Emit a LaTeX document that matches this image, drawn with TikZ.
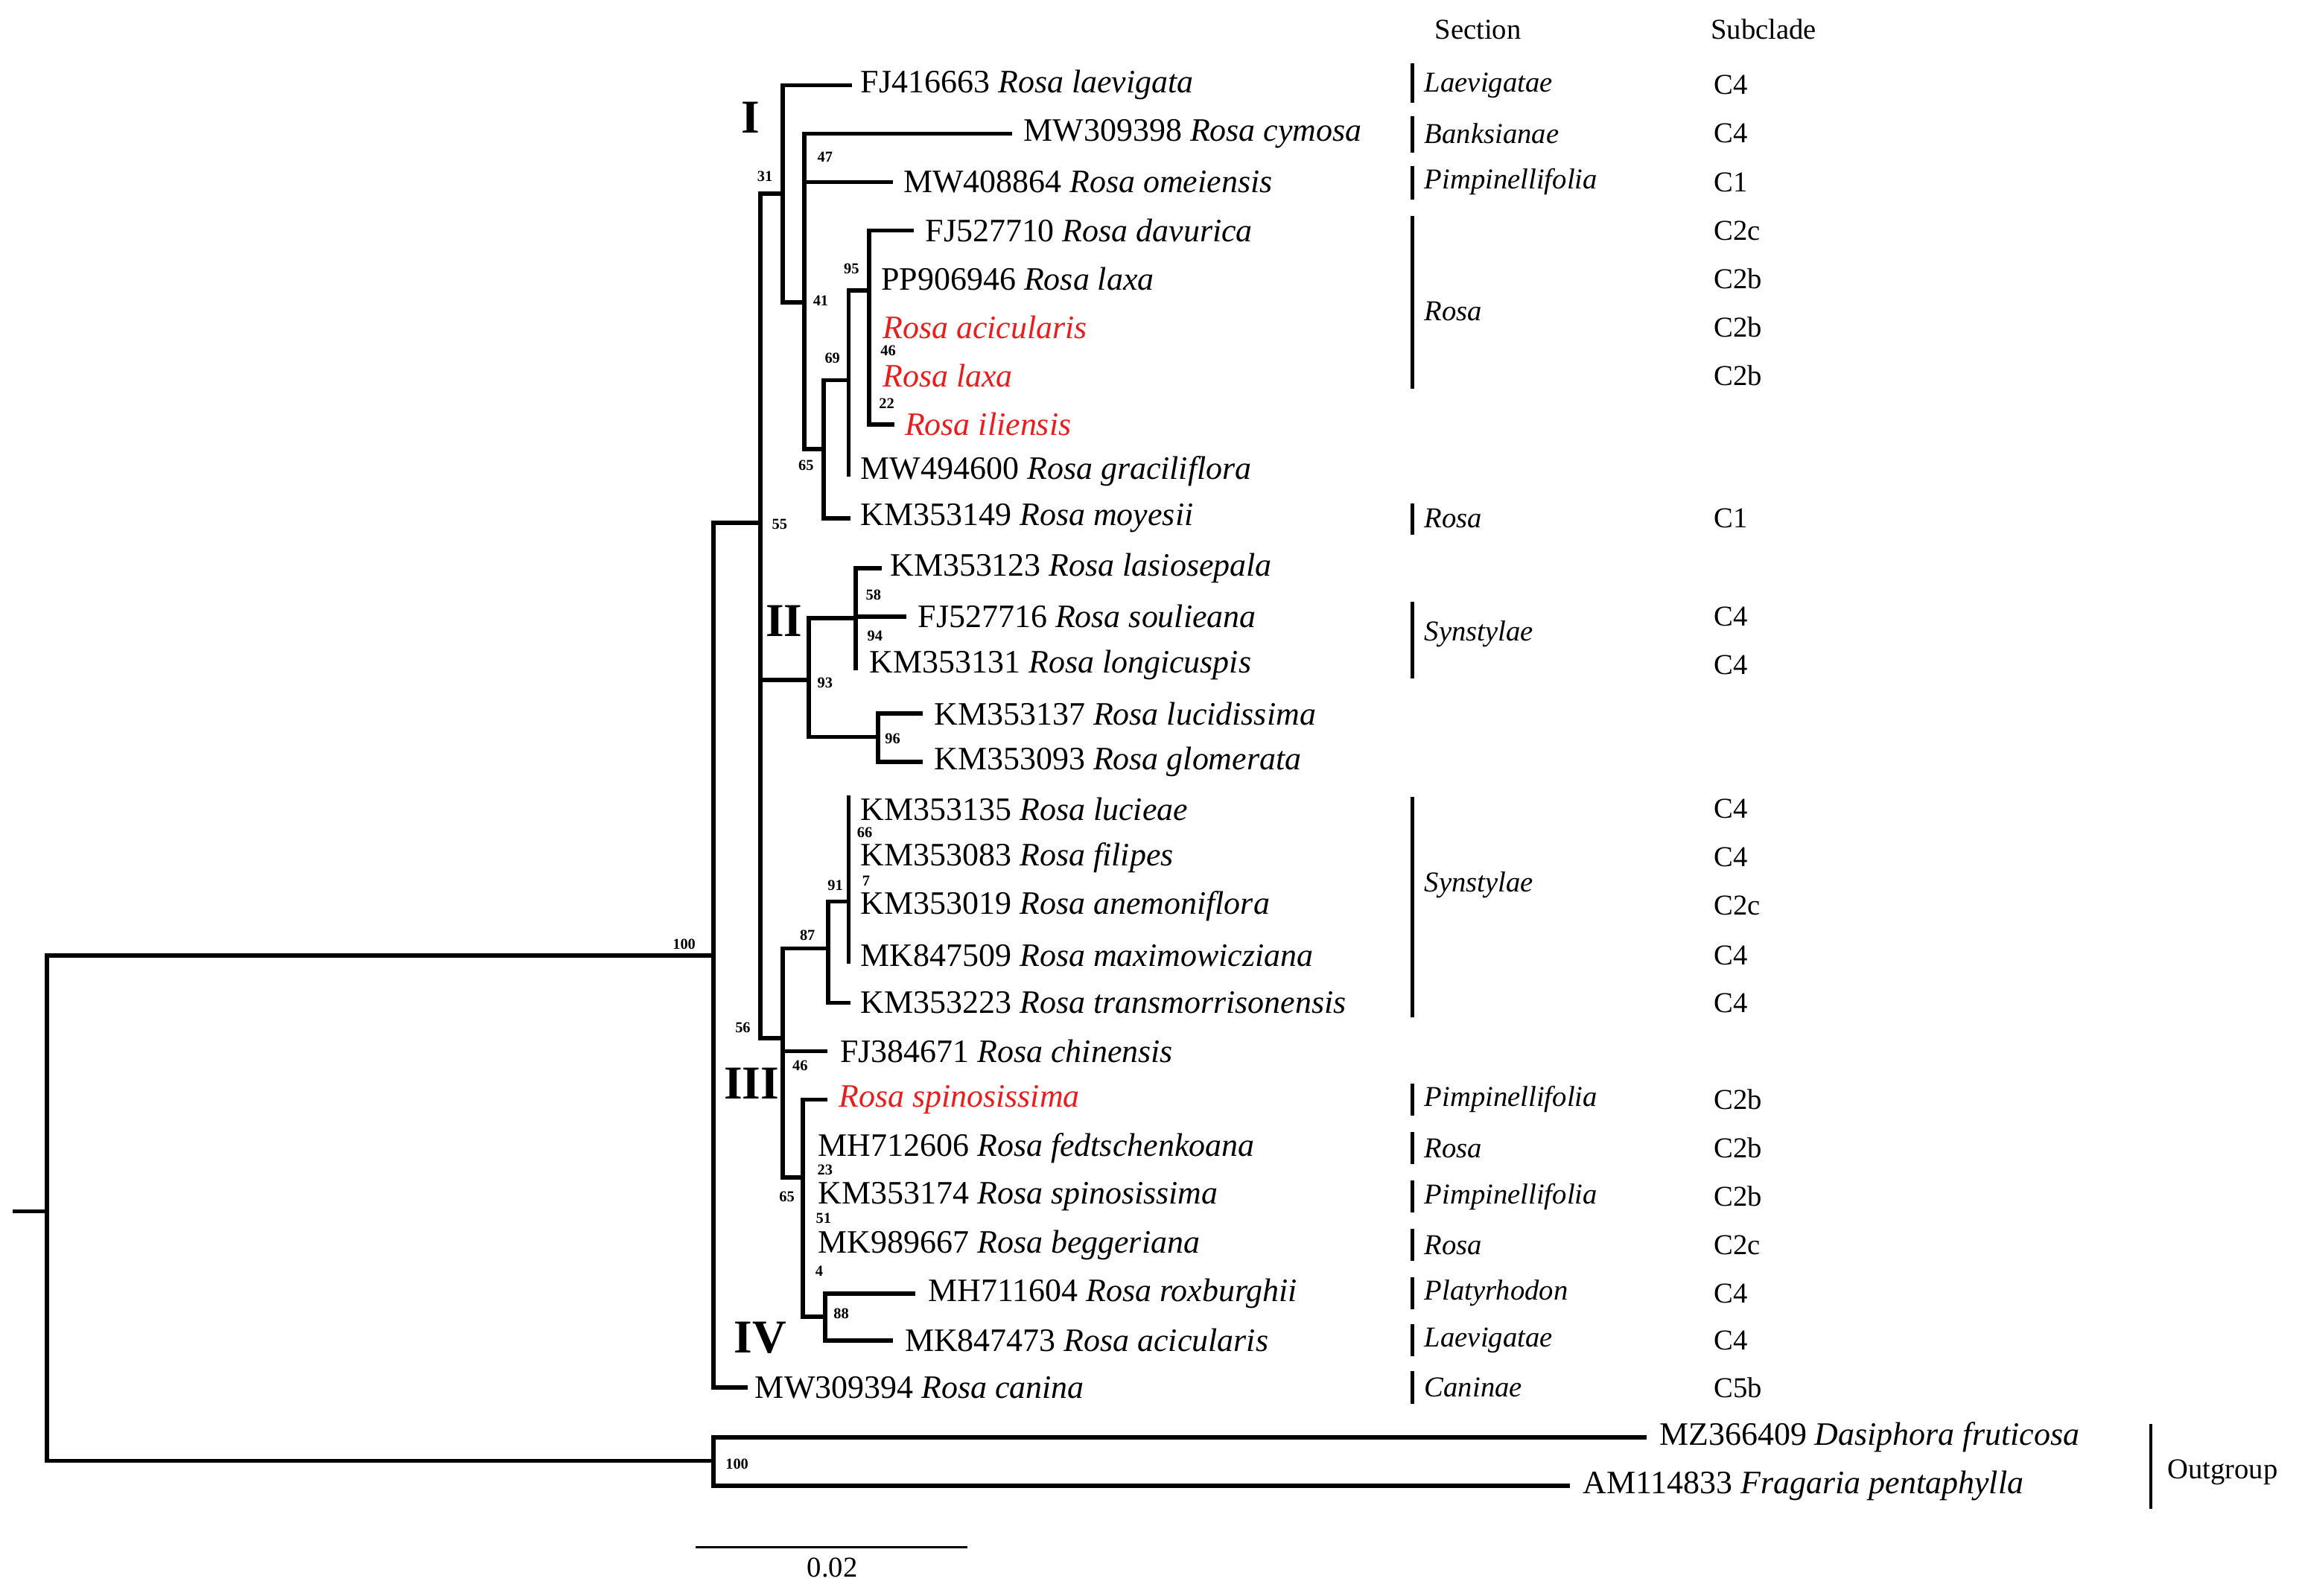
\documentclass[tikz,border=0pt]{standalone}
\usepackage{fontspec}
\setmainfont{Liberation Serif}
\definecolor{rred}{RGB}{230,30,30}
\begin{document}
\begin{tikzpicture}[x=0.01971cm,y=-0.01971cm,
  br/.style={line width=1.6pt,line cap=rect},
  lf/.style={anchor=west,inner sep=0,font=\fontsize{12.5}{14}\selectfont},
  bs/.style={inner sep=0,font=\fontsize{5.8}{6}\selectfont\bfseries},
  cl/.style={inner sep=0,font=\fontsize{18}{20}\selectfont\bfseries},
  sec/.style={anchor=west,inner sep=0,font=\fontsize{11}{13}\selectfont\itshape},
  sub/.style={anchor=west,inner sep=0,font=\fontsize{11}{13}\selectfont},
  bar/.style={line width=1.2pt}]
\useasboundingbox (0,0) rectangle (1568,1087);
% root
\draw[br] (10,825) -- (32,825);
\draw[br] (32,651) -- (32,995);
\draw[br] (32,651) -- (486,651);
\draw[br] (32,995) -- (486,995);
\draw[br] (486,356) -- (486,945);
\draw[br] (486,356) -- (518,356);
\draw[br] (486,945) -- (508,945);
\draw[br] (518,132) -- (518,707);
% clade I
\draw[br] (518,132) -- (533,132);
\draw[br] (533,58) -- (533,206);
\draw[br] (533,58) -- (579,58);
\draw[br] (533,206) -- (548,206);
\draw[br] (548,91) -- (548,306);
\draw[br] (548,91) -- (688,91);
\draw[br] (548,124) -- (607,124);
\draw[br] (548,306) -- (561,306);
\draw[br] (561,259) -- (561,353);
\draw[br] (561,353) -- (578,353);
\draw[br] (561,259) -- (578,259);
\draw[br] (578,198) -- (578,323);
\draw[br] (578,198) -- (592,198);
\draw[br] (592,157) -- (592,289);
\draw[br] (592,157) -- (621,157);
\draw[br] (592,289) -- (608,289);
% clade II
\draw[br] (518,463) -- (551,463);
\draw[br] (551,421) -- (551,502);
\draw[br] (551,421) -- (583,421);
\draw[br] (583,387) -- (583,455);
\draw[br] (583,387) -- (599,387);
\draw[br] (583,420) -- (616,420);
\draw[br] (551,502) -- (598,502);
\draw[br] (598,486) -- (598,519);
\draw[br] (598,486) -- (627,486);
\draw[br] (598,519) -- (627,519);
% clade III/IV
\draw[br] (518,707) -- (533,707);
\draw[br] (533,646) -- (533,802);
\draw[br] (533,716) -- (562,716);
\draw[br] (533,646) -- (564,646);
\draw[br] (564,614) -- (564,683);
\draw[br] (564,683) -- (578,683);
\draw[br] (564,614) -- (578,614);
\draw[br] (578,543) -- (578,655);
\draw[br] (533,802) -- (547,802);
\draw[br] (547,749) -- (547,897);
\draw[br] (547,749) -- (562,749);
\draw[br] (547,897) -- (562,897);
\draw[br] (562,881) -- (562,913);
\draw[br] (562,881) -- (622,881);
\draw[br] (562,913) -- (607,913);
% outgroup
\draw[br] (486,979) -- (486,1012);
\draw[br] (486,979) -- (1120,979);
\draw[br] (486,1012) -- (1068,1012);
% leaves
\node[lf] (l1) at (586,58) {FJ416663 \textit{Rosa laevigata}};
\node[lf] (l2) at (697,91) {MW309398 \textit{Rosa cymosa}};
\node[lf] (l3) at (615,124) {MW408864 \textit{Rosa omeiensis}};
\node[lf] (l4) at (630,157) {FJ527710 \textit{Rosa davurica}};
\node[lf] (l5) at (600,190) {PP906946 \textit{Rosa laxa}};
\node[lf,text=rred] (l6) at (601,223) {\textit{Rosa acicularis}};
\node[lf,text=rred] (l7) at (601,256) {\textit{Rosa laxa}};
\node[lf,text=rred] (l8) at (616,289) {\textit{Rosa iliensis}};
\node[lf] (l9) at (586,321) {MW494600 \textit{Rosa graciliflora}};
\node[lf] (l10) at (586,353) {KM353149 \textit{Rosa moyesii}};
\node[lf] (l11) at (606,387) {KM353123 \textit{Rosa lasiosepala}};
\node[lf] (l12) at (625,420) {FJ527716 \textit{Rosa soulieana}};
\node[lf] (l13) at (592,453) {KM353131 \textit{Rosa longicuspis}};
\node[lf] (l14) at (636,486) {KM353137 \textit{Rosa lucidissima}};
\node[lf] (l15) at (636,519) {KM353093 \textit{Rosa glomerata}};
\node[lf] (l16) at (586,551) {KM353135 \textit{Rosa lucieae}};
\node[lf] (l17) at (586,584) {KM353083 \textit{Rosa filipes}};
\node[lf] (l18) at (586,617) {KM353019 \textit{Rosa anemoniflora}};
\node[lf] (l19) at (586,651) {MK847509 \textit{Rosa maximowicziana}};
\node[lf] (l20) at (586,683) {KM353223 \textit{Rosa transmorrisonensis}};
\node[lf] (l21) at (572,716) {FJ384671 \textit{Rosa chinensis}};
\node[lf,text=rred] (l22) at (571,749) {\textit{Rosa spinosissima}};
\node[lf] (l23) at (557,782) {MH712606 \textit{Rosa fedtschenkoana}};
\node[lf] (l24) at (557,815) {KM353174 \textit{Rosa spinosissima}};
\node[lf] (l25) at (557,848) {MK989667 \textit{Rosa beggeriana}};
\node[lf] (l26) at (632,881) {MH711604 \textit{Rosa roxburghii}};
\node[lf] (l27) at (616,913) {MK847473 \textit{Rosa acicularis}};
\node[lf] (l28) at (514,945) {MW309394 \textit{Rosa canina}};
\node[lf] (l29) at (1130,979) {MZ366409 \textit{Dasiphora fruticosa}};
\node[lf] (l30) at (1078,1012) {AM114833 \textit{Fragaria pentaphylla}};
% bootstrap
\node[bs] at (466,643) {100};
\node[bs] at (502,997) {100};
\node[bs] at (521,120) {31};
\node[bs] at (562,107) {47};
\node[bs] at (559,205) {41};
\node[bs] at (580,183) {95};
\node[bs] at (605,239) {46};
\node[bs] at (604,275) {22};
\node[bs] at (567,244) {69};
\node[bs] at (549,317) {65};
\node[bs] at (531,357) {55};
\node[bs] at (595,405) {58};
\node[bs] at (596,433) {94};
\node[bs] at (562,465) {93};
\node[bs] at (608,503) {96};
\node[bs] at (589,567) {66};
\node[bs] at (590,600) {7};
\node[bs] at (569,603) {91};
\node[bs] at (550,637) {87};
\node[bs] at (506,700) {56};
\node[bs] at (545,726) {46};
\node[bs] at (536,815) {65};
\node[bs] at (562,797) {23};
\node[bs] at (561,830) {51};
\node[bs] at (558,866) {4};
\node[bs] at (573,895) {88};
% clade labels
\node[cl] at (511,80) {I};
\node[cl] at (534,423) {II};
\node[cl] at (512,738) {III};
\node[cl] at (518,911) {IV};
% headers
\node[sub] at (977,20) {Section};
\node[sub] at (1165,20) {Subclade};
% section bars
\foreach \a/\b in {43/70,79/104,113/136,147/265,343/364,410/462,543/693,738/760,771/793,804/826,837/859,870/892,902/924,934/956}
  \draw[bar] (962,\a) -- (962,\b);
\node[sec] at (970,58) {Laevigatae};
\node[sec] at (970,91) {Banksianae};
\node[sec] at (970,124) {Pimpinellifolia};
\node[sec] at (970,212) {Rosa};
\node[sec] at (970,353) {Rosa};
\node[sec] at (970,432) {Synstylae};
\node[sec] at (970,603) {Synstylae};
\node[sec] at (970,749) {Pimpinellifolia};
\node[sec] at (970,782) {Rosa};
\node[sec] at (970,815) {Pimpinellifolia};
\node[sec] at (970,848) {Rosa};
\node[sec] at (970,881) {Platyrhodon};
\node[sec] at (970,913) {Laevigatae};
\node[sec] at (970,945) {Caninae};
% subclades
\foreach \y/\t in {58/C4,91/C4,124/C1,157/C2c,190/C2b,223/C2b,256/C2b,353/C1,420/C4,453/C4,551/C4,584/C4,617/C2c,651/C4,683/C4,749/C2b,782/C2b,815/C2b,848/C2c,881/C4,913/C4,945/C5b}
  \node[sub] at (1167,\y) {\t};
% outgroup
\draw[bar] (1465,970) -- (1465,1028);
\node[sub] (og) at (1476,1003) {Outgroup};
% scale bar
\draw[line width=0.8pt] (474,1054) -- (659,1054);
\node[sub,anchor=center] at (567,1068) {0.02};
\end{tikzpicture}
\end{document}
